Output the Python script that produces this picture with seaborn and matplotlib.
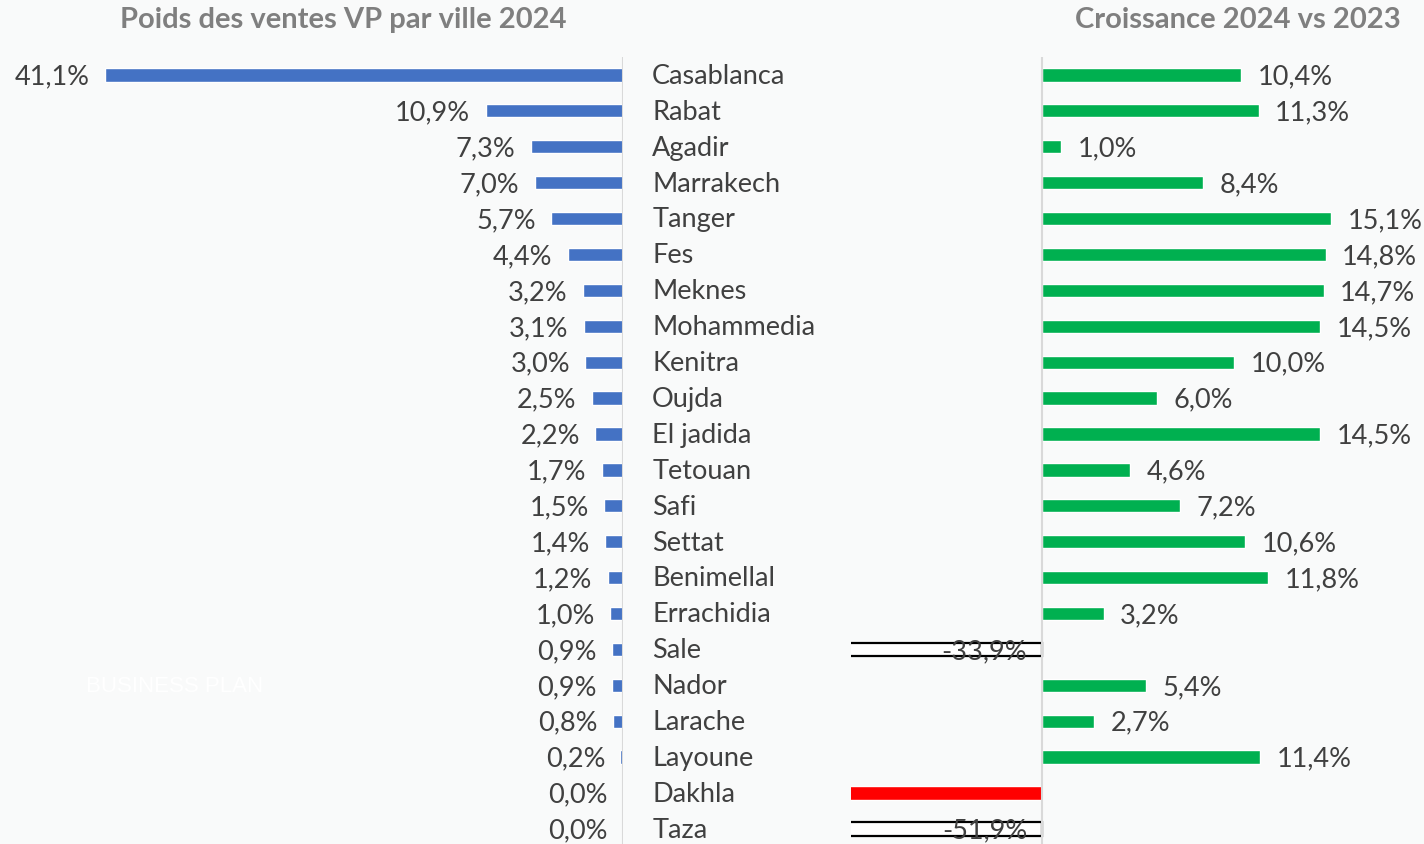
import matplotlib
matplotlib.use("Agg")
import matplotlib.pyplot as plt
import pandas as pd
import seaborn as sns

# Data
villes = ["Casablanca", "Rabat", "Agadir", "Marrakech", "Tanger", "Fes", "Meknes",
          "Mohammedia", "Kenitra", "Oujda", "El jadida", "Tetouan", "Safi", "Settat",
          "Benimellal", "Errachidia", "Sale", "Nador", "Larache", "Layoune", "Dakhla", "Taza"]
poids = [41.1, 10.9, 7.3, 7.0, 5.7, 4.4, 3.2, 3.1, 3.0, 2.5, 2.2, 1.7, 1.5, 1.4,
         1.2, 1.0, 0.9, 0.9, 0.8, 0.2, 0.0, 0.0]
croissance = [10.4, 11.3, 1.0, 8.4, 15.1, 14.8, 14.7, 14.5, 10.0, 6.0, 14.5, 4.6, 7.2,
              10.6, 11.8, 3.2, -33.9, 5.4, 2.7, 11.4, -100.0, -51.9]
# Dakhla growth has no visible label in the source
croissance_labels = [f"{v:.1f}%".replace(".", ",") for v in croissance]
croissance_labels[villes.index("Dakhla")] = ""

df = pd.DataFrame({"Ville": villes, "Poids": poids, "Croissance": croissance})

BG = "#F9FAFA"
TXT = "#404040"
FONT = ["Lato", "DejaVu Sans"]
FS = 19.5

sns.set_style("white")
plt.rcParams["font.family"] = FONT

fig = plt.figure(figsize=(14.24, 8.44), dpi=100, facecolor=BG)
W, H = 1424, 844

bottom = 0
height = (844 - 57) / H
ylim = ((844 - 75) / 35.9, -0.5)

# Left panel
ax1 = fig.add_axes([0, bottom, 623 / W, height], facecolor=BG)
sns.barplot(data=df, x="Poids", y="Ville", order=villes, color="#4472C4",
            width=0.37, ax=ax1, orient="h", saturation=1)
ax1.set_xlim(623 / 12.6, 0)
ax1.set_ylim(*ylim)
ax1.axvline(0, color="#D9D9D9", lw=1.5)
for i, v in enumerate(poids):
    ax1.annotate(f"{v:.1f}%".replace(".", ","), xy=(v, i), xytext=(-11, -1.5),
                 textcoords="offset points", ha="right", va="center",
                 fontsize=FS, color=TXT)
    ax1.annotate(villes[i], xy=(0, i), xytext=(21, -1), textcoords="offset points",
                 ha="left", va="center", fontsize=FS, color=TXT)

# Right panel
ax2 = fig.add_axes([851 / W, bottom, (W - 851) / W, height])
ax2.patch.set_alpha(0)
colors = []
for v, c in zip(croissance, villes):
    if c == "Dakhla":
        colors.append("#FF0000")
    elif v < 0:
        colors.append("white")
    else:
        colors.append("#00B050")
sns.barplot(data=df, x="Croissance", y="Ville", order=villes, hue="Ville",
            palette=colors, legend=False, width=0.37, ax=ax2, orient="h",
            saturation=1)
for p, v, c in zip(ax2.patches, croissance, villes):
    if v < 0 and c != "Dakhla":
        p.set_edgecolor("black")
        p.set_linewidth(1.6)
ax2.set_xlim(-10, (W - 1043) / 19.1)
ax2.set_ylim(*ylim)
ax2.axvline(0, color="#D9D9D9", lw=1.5)
for i, (v, lab) in enumerate(zip(croissance, croissance_labels)):
    if v >= 0:
        ax2.annotate(lab, xy=(v, i), xytext=(12, -1.5), textcoords="offset points",
                     ha="left", va="center", fontsize=FS, color=TXT)
    else:
        ax2.annotate(lab, xy=(0, i), xytext=(-11, -1.5), textcoords="offset points",
                     ha="right", va="center", fontsize=FS, color=TXT)

for ax in (ax1, ax2):
    ax.set_xlabel("")
    ax.set_ylabel("")
    ax.set_xticks([])
    ax.set_yticks([])
    sns.despine(ax=ax, left=True, bottom=True)

# Titles
fig.text(343 / W, 1 - 20 / H, "Poids des ventes VP par ville 2024", ha="center",
         va="center", fontsize=21, fontweight="bold", color="#7F7F7F")
fig.text(1238 / W, 1 - 20 / H, "Croissance 2024 vs 2023", ha="center",
         va="center", fontsize=21, fontweight="bold", color="#7F7F7F")
fig.text(175 / W, 1 - 686 / H, "BUSINESS PLAN", ha="center", va="center",
         fontsize=16, color="white", family=["Liberation Sans", "DejaVu Sans"])

fig.savefig("out.png", dpi=100, facecolor=BG)
